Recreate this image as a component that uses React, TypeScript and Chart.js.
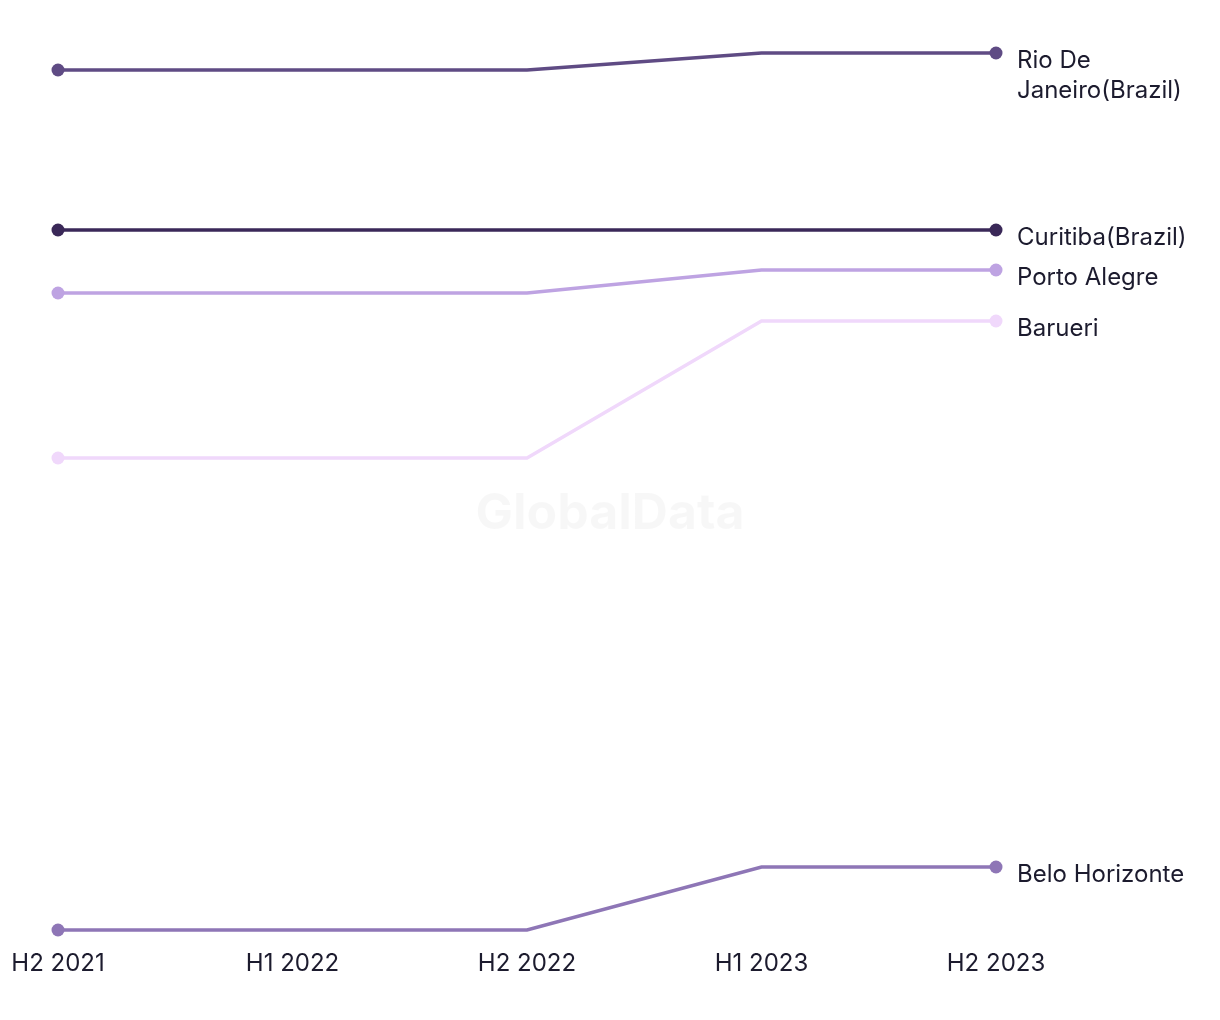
import React, { useEffect, useRef } from "react";
import { Chart, registerables } from "chart.js";

Chart.register(...registerables);

const periods = ["H2 2021", "H1 2022", "H2 2022", "H1 2023", "H2 2023"];
const rioDeJaneiro = [86, 86, 86, 87.7, 87.7];
const curitiba = [70, 70, 70, 70, 70];
const portoAlegre = [63.7, 63.7, 63.7, 66, 66];
const barueri = [47.2, 47.2, 47.2, 60.9, 60.9];
const beloHorizonte = [0, 0, 0, 6.3, 6.3];

const seriesNames = [["Rio De", "Janeiro(Brazil)"], ["Curitiba(Brazil)"], ["Porto Alegre"], ["Barueri"], ["Belo Horizonte"]];
const seriesColors = ["#5f4b84", "#3a2858", "#bea3e2", "#f0d8fb", "#8e76b6"];
const seriesValues = [rioDeJaneiro, curitiba, portoAlegre, barueri, beloHorizonte];

const FONT = "Inter, 'Noto Sans', sans-serif";
const TEXT = "#1c1b2e";

const labelPlugin = {
  id: "endLabels",
  beforeDatasetsDraw(chart: any) {
    const { ctx, chartArea } = chart;
    ctx.save();
    ctx.font = `bold 50px ${FONT}`;
    ctx.fillStyle = "rgba(0,0,0,0.03)";
    ctx.textAlign = "center";
    ctx.textBaseline = "middle";
    ctx.fillText("GlobalData", (chartArea.left + chartArea.right) / 2 + 83, 506);
    ctx.restore();
  },
  afterDatasetsDraw(chart: any) {
    const { ctx } = chart;
    ctx.save();
    ctx.font = `24px ${FONT}`;
    ctx.fillStyle = TEXT;
    ctx.textAlign = "left";
    ctx.textBaseline = "middle";
    chart.data.datasets.forEach((ds: any, i: number) => {
      const meta = chart.getDatasetMeta(i);
      const pt = meta.data[meta.data.length - 1];
      const lines = seriesNames[i];
      lines.forEach((ln: string, j: number) => {
        ctx.fillText(ln, pt.x + 21, pt.y + 8 + j * 30);
      });
    });
    ctx.restore();
  },
};

export default function App() {
  const ref = useRef<HTMLCanvasElement>(null);
  useEffect(() => {
    if (!ref.current) return;
    const chart = new Chart(ref.current, {
      type: "line",
      data: {
        labels: periods,
        datasets: seriesValues.map((vals, i) => ({
          label: seriesNames[i].join(" "),
          data: vals,
          borderColor: seriesColors[i],
          backgroundColor: seriesColors[i],
          borderWidth: 3.5,
          tension: 0,
          clip: false as any,
          pointRadius: vals.map((_, k) => (k === 0 || k === vals.length - 1 ? 6.5 : 0)),
          pointHoverRadius: 6.5,
          pointBorderWidth: 0,
        })),
      },
      options: {
        responsive: false,
        animation: false,
        layout: { padding: { left: 50, right: 216, top: 22, bottom: 0 } },
        plugins: { legend: { display: false }, tooltip: { enabled: false } },
        scales: {
          x: {
            offset: false,
            grid: { display: false, drawTicks: false },
            border: { display: false },
            ticks: { color: TEXT, font: { family: FONT, size: 24 }, padding: 19, maxRotation: 0, autoSkip: false },
            afterFit: (s: any) => {
              s.height = 78;
              s.paddingLeft = 0;
              s.paddingRight = 0;
            },
          },
          y: {
            display: false,
            min: 0,
            max: 90,
          },
        },
      },
      plugins: [labelPlugin],
    });
    return () => chart.destroy();
  }, []);
  return <canvas ref={ref} width={1204} height={1000} style={{ display: "block" }} />;
}
